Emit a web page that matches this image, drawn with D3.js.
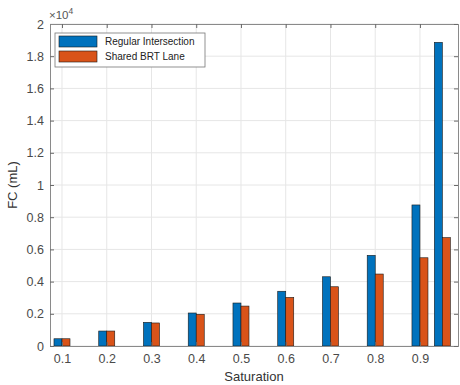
<!DOCTYPE html>
<html><head><meta charset="utf-8">
<script src="https://cdn.jsdelivr.net/npm/d3@7"></script>
<style>
body{margin:0;background:#fff;}
svg{display:block;font-family:"Liberation Sans",Arial,sans-serif;}
</style></head>
<body><svg id="c" width="460" height="385"></svg>
<script>
const saturation = [0.1, 0.2, 0.3, 0.4, 0.5, 0.6, 0.7, 0.8, 0.9, 0.95];
const regularIntersection = [450, 930, 1470, 2050, 2670, 3400, 4300, 5630, 8760, 18860];
const sharedBRTLane = [450, 930, 1430, 1970, 2480, 3020, 3680, 4470, 5480, 6730];
const seriesNames = ["Regular Intersection", "Shared BRT Lane"];
const xTicks = [0.1, 0.2, 0.3, 0.4, 0.5, 0.6, 0.7, 0.8, 0.9];
const yTicks = [0, 0.2, 0.4, 0.6, 0.8, 1, 1.2, 1.4, 1.6, 1.8, 2];

const svg = d3.select("#c");
const L = 50, R = 458, T = 24, B = 346;
const x = d3.scaleLinear().domain([0.0732, 0.985]).range([L, R]);
const y = d3.scaleLinear().domain([0, 2]).range([B, T]);
const colors = ["#0072BD", "#D95319"];
const bw = x(0.0179) - x(0);

// grid
const g = svg.append("g");
g.selectAll(".gx").data(xTicks).enter().append("line")
  .attr("x1", d => x(d)).attr("x2", d => x(d)).attr("y1", T).attr("y2", B)
  .attr("stroke", "#e6e6e6").attr("stroke-width", 1);
g.selectAll(".gy").data(yTicks).enter().append("line")
  .attr("x1", L).attr("x2", R).attr("y1", d => y(d)).attr("y2", d => y(d))
  .attr("stroke", "#e6e6e6").attr("stroke-width", 1);

// bars
const series = [regularIntersection, sharedBRTLane];
series.forEach((vals, si) => {
  svg.append("g").selectAll("rect").data(saturation).enter().append("rect")
    .attr("x", d => x(d) + (si === 0 ? -bw : 0))
    .attr("width", bw)
    .attr("y", (d, i) => y(vals[i] / 1e4))
    .attr("height", (d, i) => B - y(vals[i] / 1e4))
    .attr("fill", colors[si])
    .attr("stroke", "#1a1a1a").attr("stroke-width", 0.6);
});

// axes
const axB = d3.axisBottom(x).tickValues(xTicks).tickSize(-4).tickPadding(8).tickFormat(d3.format(".1f"));
const axL = d3.axisLeft(y).tickValues(yTicks).tickSize(-4).tickPadding(6).tickFormat(d => d === 0 ? "0" : d3.format("")(d));
const axT = d3.axisTop(x).tickValues(xTicks).tickSize(-4).tickFormat("");
const axR = d3.axisRight(y).tickValues(yTicks).tickSize(-4).tickFormat("");
function style(sel){
  sel.select(".domain").attr("stroke", "#8a8a8a");
  sel.selectAll(".tick line").attr("stroke", "#6a6a6a");
  sel.selectAll("text").attr("fill", "#4a4a4a").style("font-size", "12.5px").style("font-family", "\"Liberation Sans\",Arial,sans-serif");
}
svg.append("g").attr("transform", `translate(0,${B})`).call(axB).call(style);
svg.append("g").attr("transform", `translate(${L},0)`).call(axL).call(style);
svg.append("g").attr("transform", `translate(0,${T})`).call(axT).call(style);
svg.append("g").attr("transform", `translate(${R},0)`).call(axR).call(style);

// labels
svg.append("text").attr("x", 254).attr("y", 381).attr("text-anchor", "middle")
  .attr("fill", "#333").style("font-size", "13px").text("Saturation");
svg.append("text").attr("transform", `translate(17,${(T+B)/2}) rotate(-90)`).attr("text-anchor", "middle")
  .attr("fill", "#333").style("font-size", "13px").text("FC (mL)");
const ex = svg.append("text").attr("x", 49).attr("y", 19).attr("fill", "#555").style("font-size", "11.5px");
ex.append("tspan").text("×10");
ex.append("tspan").attr("dy", -5).style("font-size", "8.5px").text("4");

// legend
const lg = svg.append("g");
lg.append("rect").attr("x", 55).attr("y", 33).attr("width", 150).attr("height", 34)
  .attr("fill", "#fff").attr("stroke", "#777").attr("stroke-width", 0.8);
seriesNames.forEach((n, i) => {
  lg.append("rect").attr("x", 59).attr("y", 36 + i * 15).attr("width", 38).attr("height", 11)
    .attr("fill", colors[i]).attr("stroke", "#1a1a1a").attr("stroke-width", 0.6);
  lg.append("text").attr("x", 105).attr("y", 45 + i * 15).attr("fill", "#222")
    .style("font-size", "10px").text(n);
});
</script></body></html>
